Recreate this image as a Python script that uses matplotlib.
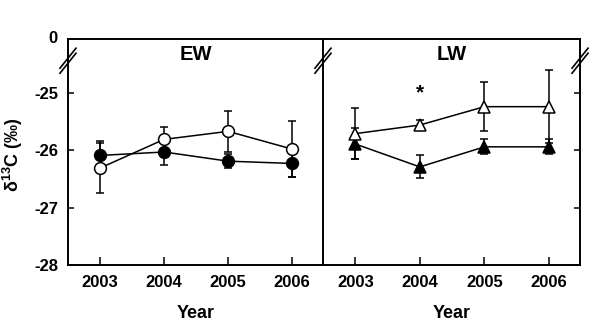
import matplotlib
matplotlib.use('Agg')
import matplotlib.pyplot as plt

plt.rcParams['font.family'] = ['Liberation Sans', 'DejaVu Sans']
plt.rcParams['font.weight'] = 'bold'
plt.rcParams['mathtext.fontset'] = 'custom'
plt.rcParams['mathtext.rm'] = 'Liberation Sans'
plt.rcParams['mathtext.bf'] = 'Liberation Sans:bold'

years = [2003, 2004, 2005, 2006]

# earlywood
ew_filled = [-26.09, -26.03, -26.19, -26.23]
ew_filled_err = [0.25, 0.22, 0.12, 0.24]
ew_open = [-26.31, -25.81, -25.67, -25.98]
ew_open_err = [0.43, 0.22, 0.36, 0.49]

# latewood
lw_filled = [-25.89, -26.29, -25.94, -25.94]
lw_filled_err = [0.27, 0.20, 0.13, 0.13]
lw_open = [-25.71, -25.56, -25.24, -25.24]
lw_open_err = [0.45, 0.08, 0.43, 0.64]

yticks = [-28, -27, -26, -25]
ytop = -24.06
star_year, star_y = 2004, -25.0

fig = plt.figure(figsize=(6, 3.26), dpi=100)
ax1 = fig.add_axes([0.1133, 0.1871, 0.4250, 0.6933])
ax2 = fig.add_axes([0.5383, 0.1871, 0.4284, 0.6933])

kw = dict(color='black', lw=1.1, elinewidth=1.1, capsize=3, capthick=1.1,
          mec='black', mew=1.1)

ax1.errorbar(years, ew_filled, yerr=ew_filled_err, fmt='-o', ms=8.5, mfc='black', zorder=3, **kw)
ax1.errorbar(years, ew_open, yerr=ew_open_err, fmt='-o', ms=8.5, mfc='white', zorder=4, **kw)
ax2.errorbar(years, lw_filled, yerr=lw_filled_err, fmt='-^', ms=9, mfc='black', zorder=3, **kw)
ax2.errorbar(years, lw_open, yerr=lw_open_err, fmt='-^', ms=9, mfc='white', zorder=4, **kw)

for ax in (ax1, ax2):
    ax.set_xlim(2002.5, 2006.48)
    ax.set_ylim(-28, ytop)
    ax.set_xticks(years)
    ax.set_yticks(yticks)
    for s in ax.spines.values():
        s.set_linewidth(1.4)
    ax.tick_params(axis='x', direction='in', length=6, width=1.1, pad=7, labelsize=12)
    ax.tick_params(axis='y', direction='in', length=4.5, width=1.1, pad=7, labelsize=12)
    ax.set_xlabel('Year', fontsize=13, fontweight='bold')
    ax.xaxis.set_label_coords(0.5, -0.175)

ax1.spines['right'].set_visible(False)
ax1.set_yticklabels([str(t) for t in yticks])
ax1.text(-0.04, 1.0, '0', transform=ax1.transAxes, ha='right', va='center', fontsize=12)
ax1.set_ylabel('δ$^{\\mathbf{13}}$C (‰)', fontsize=13, fontweight='bold')
ax1.yaxis.set_label_coords(-0.169, 0.487)

ax2.yaxis.tick_right()
ax2.tick_params(axis='y', labelright=False)

ax1.text(0.5, 0.93, 'EW', transform=ax1.transAxes, ha='center', va='center', fontsize=14.5)
ax2.text(0.5, 0.93, 'LW', transform=ax2.transAxes, ha='center', va='center', fontsize=14.5)
ax2.text(star_year, star_y, '*', ha='center', va='center', fontsize=15)

# axis break marks on the vertical spines
fw, fh = fig.get_size_inches() * fig.dpi

def slash(ax, xa, ya):
    pos = ax.get_position()
    w, h = pos.width * fw, pos.height * fh
    dx, dy = 8 / w, 10 / h
    for off in (0, -5 / h):
        ax.plot([xa - dx, xa + dx], [ya - dy + off, ya + dy + off], color='black',
                lw=1.2, transform=ax.transAxes, clip_on=False, zorder=5)

slash(ax1, 0.0, 0.915)
slash(ax2, 0.0, 0.915)
slash(ax2, 1.0, 0.915)

fig.savefig('out.png', dpi=100)
